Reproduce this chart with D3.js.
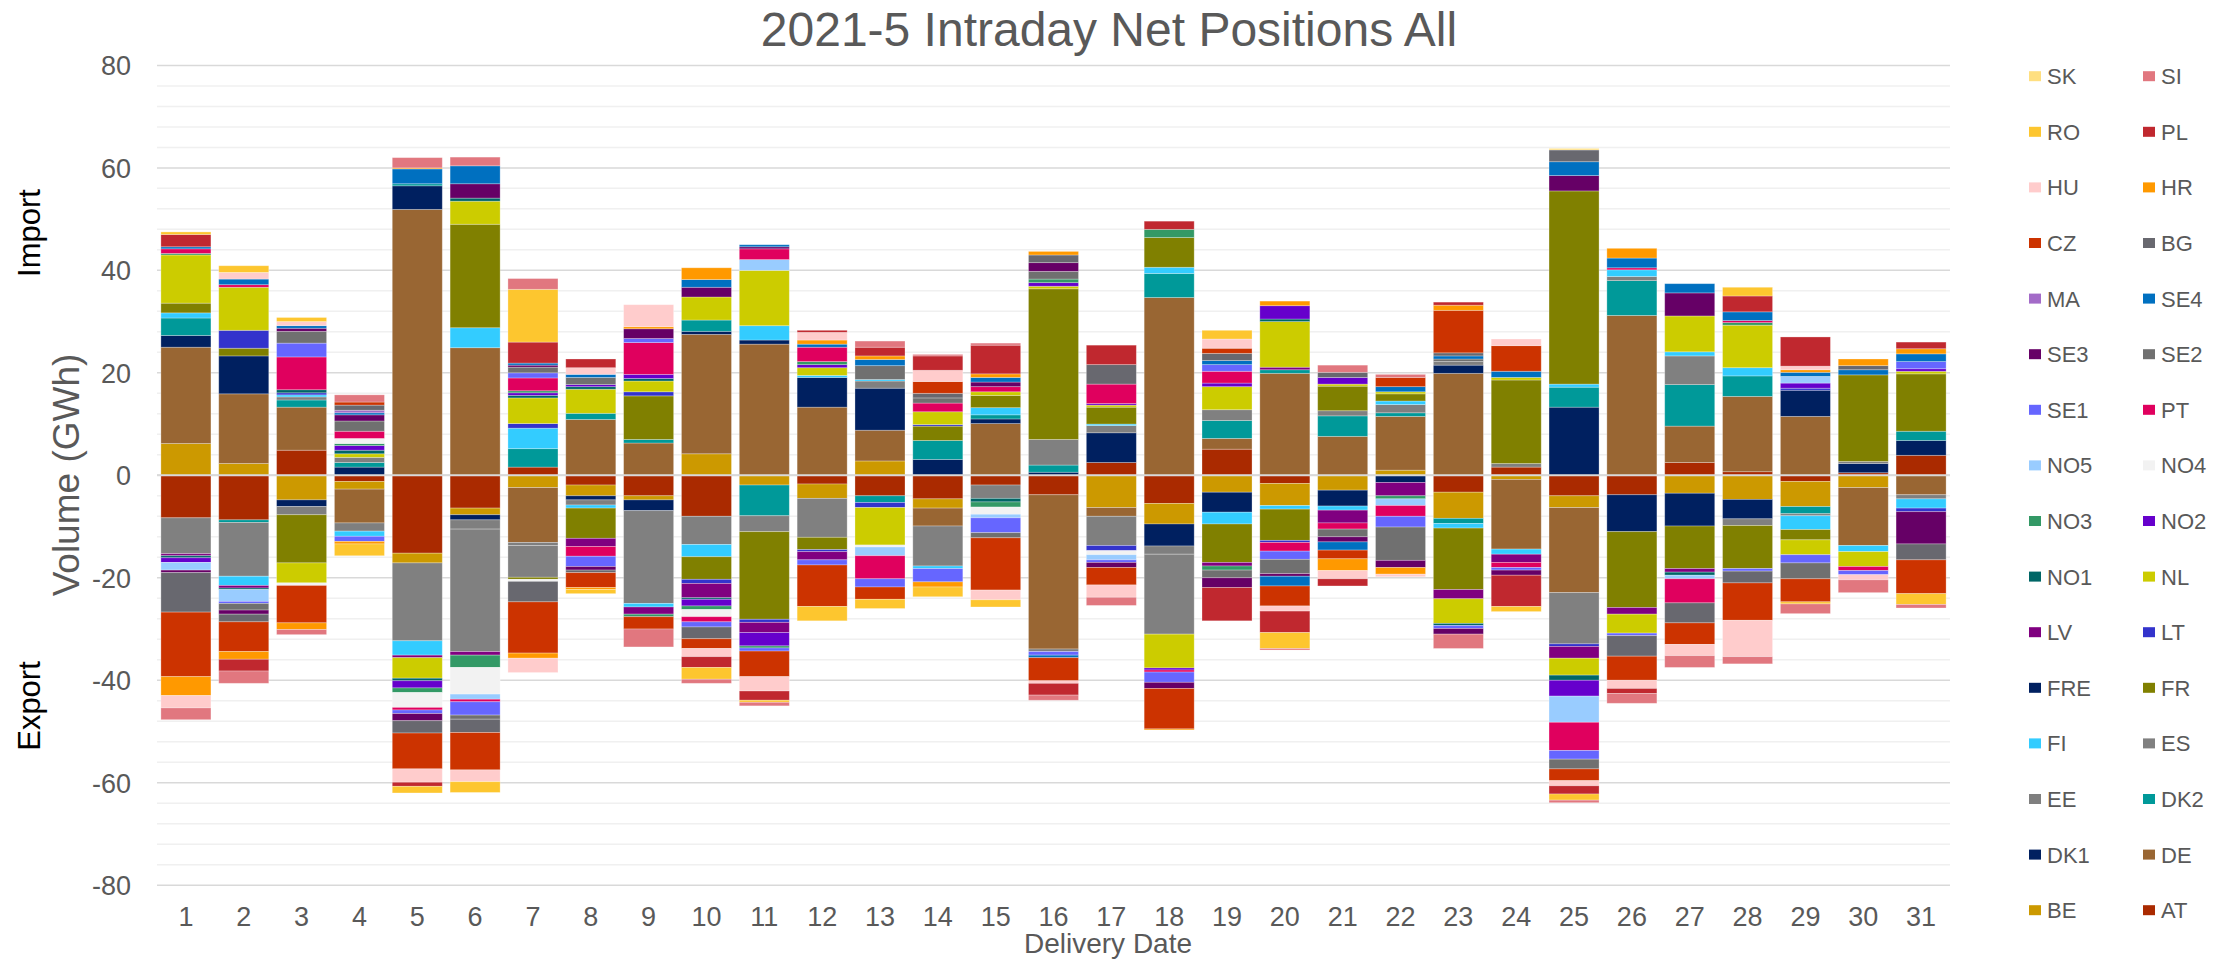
<!DOCTYPE html>
<html>
<head>
<meta charset="utf-8">
<script src="https://cdn.jsdelivr.net/npm/d3@7/dist/d3.min.js"></script>
<style>
  html, body { margin: 0; padding: 0; background: #fff; }
  svg { display: block; font-family: "Liberation Sans", Arial, sans-serif; }
</style>
</head>
<body>
<svg id="chart" width="2237" height="965"></svg>
<script>
// ---------- data ----------
const dayLabels = ["1","2","3","4","5","6","7","8","9","10","11","12","13","14","15","16","17","18","19","20","21","22","23","24","25","26","27","28","29","30","31"];
const yTicks = [80, 60, 40, 20, 0, -20, -40, -60, -80];

// stacking order (first = closest to zero)
const seriesKeys = ["AT","BE","DE","DK1","DK2","EE","ES","FI","FR","FRE","LT","LV","NL","NO1","NO2","NO3","NO4","NO5","PT","SE1","SE2","SE3","SE4","MA","BG","CZ","HR","HU","PL","RO","SI","SK"];
const seriesColors = ["#AA2A00","#CC9900","#996633","#002060","#009999","#7F7F7F","#808080","#33CCFF","#808000","#002060","#3333CC","#800080","#CCCC00","#006666","#6600CC","#339966","#F2F2F2","#99CCFF","#E0005E","#6666FF","#707070","#660066","#0070C0","#A36BC8","#68686F","#CC3300","#FF9900","#FFCCCC","#C0282F","#FDC62F","#E1777F","#FFDF80"];

const AT  = [-8.3,-8.7,4.9,-1.2,-15.2,-6.4,1.6,-1.9,-4.0,-8.0, 0,-1.7,-4.0,-4.6,-1.9,-3.8,2.5,-5.5,5.1,-1.6, 0,0,-3.3,1.6,-4.0,-3.8,2.5,0.7,-1.2,0.5,3.9];
const BE  = [6.2,2.3,-4.8,-1.5,-1.9,-1.3,-2.4,-2.1,-0.8,4.2, -1.9,-2.8,2.8,-1.8,0,0,-6.3,-4.0,-3.3,-4.3, -2.9,1.0,-5.1,-0.8,-2.3,0,-3.5,-4.7,-4.9,-2.4,0];
const DE  = [18.8,13.6,8.4,-6.6,51.9,24.9,-10.7,10.9,6.3,23.3, 25.6,13.3,6.0,-3.5,10.1,-30.1,-1.7,34.7,2.1,19.9, 7.6,10.5,19.9,-13.6,-16.6,31.2,7.1,14.7,11.5,-11.3,-3.8];
const DK1 = [2.3,7.4,-1.3,1.6,4.6,-1.0,0,-0.8,-2.1,0.6, 0.8,5.8,8.2,3.1,0.9,0.6,5.8,-4.3,-3.9,0, -3.1,-1.4,1.6,0,13.3,-7.2,-6.4,-3.8,5.1,1.8,2.9];
const DK2 = [3.4,-0.5,1.4,0.9,0.4,0,3.6,1.2,0.7,2.2, -6.0,0,-1.3,3.7,0.8,1.4,0,4.7,3.5,0.7, 4.0,0.7,-1.0,0,3.9,6.8,8.1,4.0,-1.4,0,1.8];
const EE  = [0,0,-1.6,-1.6,0,-1.8,-0.6,-1.0,0,0, 0,0,0,0,0,-0.5,-5.7,-1.6,0,0, 0,0,0,0,0,0,0,0,0,0,0];
const ES  = [-7.0,-10.5,0.6,1.0,-15.2,-23.9,-6.2,0,-18.1,-5.5, -3.1,-7.6,1.4,-7.8,-2.6,5.0,1.4,-15.6,2.1,0, 1.0,1.6,0.7,0.7,-10.0,0.8,5.6,-1.3,-0.4,0.4,-0.8];
const FI  = [1.0,-1.8,0.4,-1.0,-2.8,3.9,4.0,-0.6,-0.7,-2.4, 2.8,0.4,0.3,-0.5,1.4,0,0.3,1.2,-2.3,-0.7, -0.8,0.7,-0.9,-1.0,0.6,1.3,0.8,1.6,-2.7,-1.2,-1.8];
const FR  = [1.9,1.5,-9.4,0,0,20.2,-0.4,-5.9,8.5,-4.4, -17.1,-2.4,0,2.8,2.4,29.4,3.3,5.8,-7.5,-6.1, 4.8,1.4,-12.0,16.3,37.7,-14.8,-8.3,-8.4,-2.0,16.9,11.2];
const FRE = [0,0,0,0,0,0,0,0,0,0, 0,0,0,0,0,0,0,0,0,0, 0,0,0,0,0,0,0,0,0,0,0];
const LT  = [0,3.5,0.4,0,0,0,0.9,0,0.8,-0.8, -0.6,-0.4,-1.0,0.3,0,0,-1.0,0,0,-0.4, 0,0,0,0,-0.5,0,0,0,0.4,0,-0.7];
const LV  = [-0.4,-0.5,0,0,-0.5,-0.7,0,-1.6,-1.4,-2.8, -2.0,-1.6,0,0,0,0,0,0,-0.7,0.5, -2.5,-2.6,-1.8,-1.6,-2.3,-1.3,-0.7,0,0,0,0];
const NL  = [9.4,8.4,-3.9,0.7,-4.0,4.5,5.0,4.7,2.1,4.5, 10.8,1.5,-7.3,2.5,0.7,0.5,0.4,-6.6,4.5,8.9, 0.4,0.4,-4.8,0.5,-3.3,-3.7,7.0,8.3,-2.9,-2.9,0.5];
const NO1 = [-0.4,-0.3,0.6,0.7,-0.5,0.6,0.5,0.5,0.5,-0.3, 0,0,0,0,-0.7,0,0,0,0,0.5, 0,0,-0.4,0,-1.0,0,-0.6,0,0,0,0];
const NO2 = [-0.9,0,0,0.9,-1.4,0,0.5,0.4,0.8,-1.3, -2.6,0.6,0,0,0,0.7,0.3,-0.4,0.7,2.6, 1.3,0,0,0,-3.1,0,0,0,1.0,0,0.5];
const NO3 = [0.3,0,0,0.4,-0.9,-2.4,0.4,0,-0.5,-0.7, -0.4,0.6,0,0,-1.0,0.7,0,1.6,-0.8,0, 0,-0.6,0,0,0,0,0,0.5,0,0,0];
const NO4 = [0,0,-0.5,1.0,-2.9,-5.2,-0.4,0,0,-1.4, 0,0,-0.4,0,-1.4,0,-0.8,0,0,0, 0,0,0,0,0,0,0,0,0,0,0];
const NO5 = [-1.5,-2.3,0,0,0,-1.0,0,0,0,0, 2.1,0,-1.7,0,-0.7,0,-1.0,0,0,0, 0,-1.3,0,0,-5.1,0,-0.7,0,1.3,0,0];
const PT  = [0.9,0.5,6.4,1.4,-0.5,-0.5,2.5,-1.9,6.2,-1.0, 2.1,2.8,-4.5,1.7,1.0,0,3.8,-0.4,2.3,-1.7, -1.2,-2.1,0,-1.0,-5.5,0.4,-4.7,0.4,0,-0.8,0];
const SE1 = [0,-0.4,2.7,-1.0,-0.7,-2.6,1.0,-2.0,0.8,-1.0, -0.6,-1.0,-1.6,-2.6,-2.9,-0.7,-0.5,-2.0,1.3,-1.6, 0,-2.1,-0.6,-0.5,-1.7,-0.5,0,-0.5,-1.6,-0.8,1.4];
const SE2 = [0,-1.3,2.3,2.0,0,-0.8,1.1,1.4,0,0, 0,0,2.7,1.0,-1.0,1.5,0,0,-1.5,-2.8, -1.5,-6.5,0.5,0,-1.9,0,0,0,-3.1,0,0];
const SE3 = [-0.5,-0.8,0.6,1.2,-1.4,2.8,0.4,-0.7,1.9,1.9, 0.4,0,0,0,0.9,1.7,-1.0,-1.2,-1.9,-0.5, -1.0,-1.4,-1.1,-1.0,3.0,0,4.5,0,0,0,-6.3];
const SE4 = [0.4,1.1,0.5,0.4,2.9,3.5,0.4,0.6,0,1.5, 0.4,0.6,1.2,0,0.9,-0.5,0,0,0.8,-1.9, -1.6,1.0,0.6,1.2,2.7,1.9,1.8,1.7,0.8,1.0,1.5];
const MA  = [0,0,0,0.5,0,0,0,0,0,0, 0,0,0,0,0,0,0,0,0,0, 0,0,0,0,0,0,0,0,0,0,0];
const BG  = [-7.7,-1.5,0,1.0,-2.4,-2.6,-4.0,-0.5,0,-2.3, 0,0,0,0.9,0,1.5,3.8,0,1.4,0, 1.0,0,0.6,0,2.3,-4.0,-3.9,-2.3,0,0.8,-3.1];
const CZ  = [-12.6,-5.8,-7.3,0.6,-7.0,-7.3,-10.0,-2.9,-2.4,-1.9, -5.0,-8.1,-2.4,2.3,-10.2,-4.5,-3.4,-7.9,1.0,-3.9, -1.7,1.8,8.3,5.0,-2.3,-4.7,-4.2,-7.3,-4.5,0,-6.6];
const HR  = [-3.7,-1.5,-1.3,-0.5,0.2,0,-1.0,-0.4,0.4,2.3, 0,0.8,0.7,-1.0,0.7,0.7,0,-0.2,0,0.9, -2.3,-1.3,1.0,0,0,1.9,0,0,0.5,1.3,1.0];
const HU  = [-2.4,1.3,0.8,0,-2.6,-2.3,-2.8,1.3,4.3,-1.6, -2.8,1.5,0,2.2,-1.9,-0.5,-2.4,0,1.8,-1.0, -1.6,-0.5,0,1.3,-1.0,-1.6,-2.2,-7.1,0.7,-1.0,0];
const PL  = [2.4,-2.3,0,0,-0.8,0,4.1,1.7,0,-2.1, -1.8,0.4,1.7,2.8,5.6,-2.3,3.8,1.6,-6.5,-4.2, -1.4,0,0.6,-6.1,-1.6,-1.0,0,3.1,5.7,0,1.3];
const RO  = [0.5,1.3,0.8,-2.3,-1.3,-2.1,10.3,-0.8,0,-2.3, -0.4,-2.8,-1.8,-1.9,-1.4,0,0,0,1.7,-3.1, 0,0,0,-1.0,-1.2,0,0,1.7,-0.4,0,-2.1];
const SI  = [-2.3,-2.4,-1.0,1.4,2.0,1.7,2.1,0,-3.5,-0.8, -0.7,0,1.2,0.3,0.4,-1.0,-1.6,0,0,-0.3, 1.4,0.6,-2.8,0,-0.5,-1.9,-2.3,-1.4,-1.9,-2.5,-0.7];
const SK  = [0,0,0,0,0,0,0,0,0,0, 0,0,0,0,0,0,0,0,0,0, 0,0,0,0,0.3,0,0,0,0,0,0];

const seriesValues = {AT,BE,DE,DK1,DK2,EE,ES,FI,FR,FRE,LT,LV,NL,NO1,NO2,NO3,NO4,NO5,PT,SE1,SE2,SE3,SE4,MA,BG,CZ,HR,HU,PL,RO,SI,SK};

// legend layout (as in the reference: 2 columns, reversed order)
const legendRows = [["SK","SI"],["RO","PL"],["HU","HR"],["CZ","BG"],["MA","SE4"],["SE3","SE2"],["SE1","PT"],["NO5","NO4"],["NO3","NO2"],["NO1","NL"],["LV","LT"],["FRE","FR"],["FI","ES"],["EE","DK2"],["DK1","DE"],["BE","AT"]];

// ---------- chart ----------
const svg = d3.select("#chart");
svg.append("rect").attr("width", 2237).attr("height", 965).attr("fill", "#fff");

const plot = {left: 157, right: 1950, top: 65.4, bottom: 885.2};
const x = d3.scaleBand().domain(dayLabels).range([plot.left, plot.right]).paddingInner(0.135).paddingOuter(0.0675);
const y = d3.scaleLinear().domain([-80, 80]).range([plot.bottom, plot.top]);
const color = d3.scaleOrdinal().domain(seriesKeys).range(seriesColors);

// gridlines
const minor = d3.range(-80, 81, 4).filter(v => v % 20 !== 0);
svg.append("g").selectAll("line").data(minor).join("line")
  .attr("x1", plot.left).attr("x2", plot.right)
  .attr("y1", d => y(d)).attr("y2", d => y(d))
  .attr("stroke", "#F0F0F0").attr("stroke-width", 1.5);
svg.append("g").selectAll("line").data(yTicks).join("line")
  .attr("x1", plot.left).attr("x2", plot.right)
  .attr("y1", d => y(d)).attr("y2", d => y(d))
  .attr("stroke", "#D9D9D9").attr("stroke-width", 1.5);

// stacked data
const table = dayLabels.map((d, i) => {
  const row = {day: d};
  seriesKeys.forEach(k => row[k] = seriesValues[k][i]);
  return row;
});
const stacked = d3.stack().keys(seriesKeys).order(d3.stackOrderNone).offset(d3.stackOffsetDiverging)(table);

svg.append("g").selectAll("g").data(stacked).join("g")
  .attr("fill", s => color(s.key))
  .selectAll("rect").data(s => s.filter(p => p[1] !== p[0])).join("rect")
  .attr("x", p => x(p.data.day))
  .attr("width", x.bandwidth())
  .attr("y", p => y(Math.max(p[0], p[1])))
  .attr("height", p => Math.abs(y(p[0]) - y(p[1])))
  .attr("stroke", "#ffffff").attr("stroke-opacity", 0.35).attr("stroke-width", 0.8);

// zero axis line on top
svg.append("line").attr("x1", plot.left).attr("x2", plot.right)
  .attr("y1", y(0)).attr("y2", y(0)).attr("stroke", "#D9D9D9").attr("stroke-width", 2);

// y axis labels
const yAxis = d3.axisLeft(y).tickValues(yTicks).tickSize(0).tickPadding(0).tickFormat(d => String(d));
const gy = svg.append("g").attr("transform", "translate(131,0)").call(yAxis);
gy.select(".domain").remove();
gy.selectAll("text").attr("font-size", 27).attr("fill", "#595959")
  .attr("font-family", "Liberation Sans, Arial, sans-serif").attr("dy", "0.35em");

// x axis labels
const xAxis = d3.axisBottom(x).tickSize(0).tickPadding(0);
const gx = svg.append("g").attr("transform", "translate(0,907)").call(xAxis);
gx.select(".domain").remove();
gx.selectAll("text").attr("font-size", 27).attr("fill", "#595959")
  .attr("font-family", "Liberation Sans, Arial, sans-serif").attr("dy", "0.71em");

// title
svg.append("text").attr("x", 1109).attr("y", 46).attr("text-anchor", "middle")
  .attr("font-size", 48).attr("fill", "#595959").text("2021-5 Intraday Net Positions All");

// axis titles
svg.append("text").attr("transform", "translate(79,475) rotate(-90)").attr("text-anchor", "middle")
  .attr("font-size", 37).attr("fill", "#595959").text("Volume (GWh)");
svg.append("text").attr("x", 1108).attr("y", 953).attr("text-anchor", "middle")
  .attr("font-size", 28).attr("fill", "#595959").text("Delivery Date");

svg.append("text").attr("transform", "translate(40,233) rotate(-90)").attr("text-anchor", "middle")
  .attr("font-size", 31).attr("fill", "#000").attr("font-family", "Liberation Sans Narrow, Arial Narrow, sans-serif").text("Import");
svg.append("text").attr("transform", "translate(40,706) rotate(-90)").attr("text-anchor", "middle")
  .attr("font-size", 31).attr("fill", "#000").attr("font-family", "Liberation Sans Narrow, Arial Narrow, sans-serif").text("Export");

// legend
const legend = svg.append("g");
const colX = [2029, 2143];
legendRows.forEach((row, r) => {
  row.forEach((k, c) => {
    const cy = 76.2 + r * 55.6;
    const g = legend.append("g");
    g.append("rect").attr("x", colX[c]).attr("y", cy - 5).attr("width", 12).attr("height", 10).attr("fill", color(k));
    g.append("text").attr("x", colX[c] + 18).attr("y", cy).attr("dy", "0.36em")
      .attr("font-size", 22).attr("fill", "#595959").text(k);
  });
});
</script>
</body>
</html>
